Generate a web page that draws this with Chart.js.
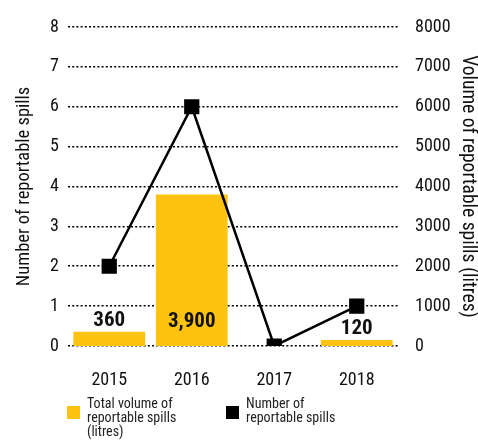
<!DOCTYPE html>
<html>
<head>
<meta charset="utf-8">
<script src="https://cdn.jsdelivr.net/npm/chart.js@4"></script>
<style>
  html, body { margin: 0; padding: 0; background: #fff; }
  #wrap { width: 478px; height: 440px; }
</style>
</head>
<body>
<div id="wrap"><canvas id="spillChart"></canvas></div>
<script>
const years = ['2015', '2016', '2017', '2018'];
const spillCounts = [2, 6, 0, 1];
const spillVolumes = [360, 3800, 0, 150];
const volumeLabels = ['360', '3,900', '', '120'];
const countTicks = [0, 1, 2, 3, 4, 5, 6, 7, 8];
const volumeTicks = [0, 1000, 2000, 3000, 4000, 5000, 6000, 7000, 8000];

const FONT = "'Roboto Condensed', 'DejaVu Sans Condensed', sans-serif";
const YELLOW = '#fec310';

// labels above the bars (tall bar gets it inside, near the base)
const barLabels = {
    id: 'barLabels',
    afterDatasetsDraw(chart) {
        const meta = chart.getDatasetMeta(1);
        const ctx = chart.ctx;
        ctx.save();
        ctx.font = 'bold 21px ' + FONT;
        ctx.fillStyle = '#111';
        ctx.textAlign = 'center';
        ctx.textBaseline = 'middle';
        meta.data.forEach((bar, i) => {
            const txt = volumeLabels[i];
            if (!txt) return;
            const h = bar.base - bar.y;
            const y = h > 30 ? bar.base - 24 : bar.y - 11;
            ctx.fillText(txt, bar.x, y);
        });
        ctx.restore();
    }
};

// legend with wrapped lines, drawn under the x axis
const wrapLegend = {
    id: 'wrapLegend',
    afterDraw(chart) {
        const ctx = chart.ctx;
        const items = [
            { x: 67, color: YELLOW, lines: ['Total volume of', 'reportable spills', '(litres)'] },
            { x: 226, color: '#000', lines: ['Number of', 'reportable spills'] }
        ];
        ctx.save();
        ctx.font = '14px ' + FONT;
        ctx.textAlign = 'left';
        ctx.textBaseline = 'middle';
        items.forEach(it => {
            ctx.fillStyle = it.color;
            ctx.fillRect(it.x, 406, 13, 13);
            ctx.fillStyle = '#222';
            it.lines.forEach((l, k) => ctx.fillText(l, it.x + 20, 404 + k * 14));
        });
        ctx.restore();
    }
};

new Chart(document.getElementById('spillChart'), {
    data: {
        labels: years,
        datasets: [
            {
                type: 'line',
                label: 'Number of reportable spills',
                data: spillCounts,
                yAxisID: 'y',
                borderColor: '#000',
                backgroundColor: '#000',
                borderWidth: 2.5,
                pointStyle: 'rect',
                pointRadius: 9,
                pointHoverRadius: 9,
                tension: 0,
                order: 0
            },
            {
                type: 'bar',
                label: 'Total volume of reportable spills (litres)',
                data: spillVolumes,
                yAxisID: 'y1',
                backgroundColor: YELLOW,
                barPercentage: 0.87,
                categoryPercentage: 1,
                order: 1
            }
        ]
    },
    options: {
        responsive: true,
        maintainAspectRatio: false,
        animation: false,
        layout: { padding: { top: 27, right: 0, left: 0, bottom: 0 } },
        plugins: {
            legend: { display: false },
            tooltip: { enabled: false }
        },
        scales: {
            x: {
                grid: { display: false },
                border: { display: false },
                ticks: { color: '#111', font: { family: FONT, size: 18 }, padding: 16 },
                afterFit: s => { s.height = 94; }
            },
            y: {
                position: 'left',
                min: 0,
                max: 8,
                afterBuildTicks: s => { s.ticks = countTicks.map(v => ({ value: v })); },
                ticks: { color: '#111', font: { family: FONT, size: 18 }, padding: 9 },
                grid: { color: '#000', lineWidth: 1.6, drawTicks: false },
                border: { display: false, dash: [2, 2.2] },
                title: {
                    display: true, text: 'Number of reportable spills', color: '#111',
                    font: { family: FONT, size: 18.5, lineHeight: 1 }, padding: { top: 15, bottom: 0 }
                },
                afterFit: s => { s.width = 68; }
            },
            y1: {
                position: 'right',
                min: 0,
                max: 8000,
                afterBuildTicks: s => { s.ticks = volumeTicks.map(v => ({ value: v })); },
                ticks: {
                    color: '#111', font: { family: FONT, size: 18 }, padding: 9,
                    callback: v => String(v)
                },
                grid: { display: false },
                border: { display: false },
                title: {
                    display: true, text: 'Volume of reportable spills (litres)', color: '#111',
                    font: { family: FONT, size: 19.5, lineHeight: 1 }, padding: { top: 0, bottom: 0 }
                },
                afterFit: s => { s.width = 80; }
            }
        }
    },
    plugins: [barLabels, wrapLegend]
});
</script>
</body>
</html>
